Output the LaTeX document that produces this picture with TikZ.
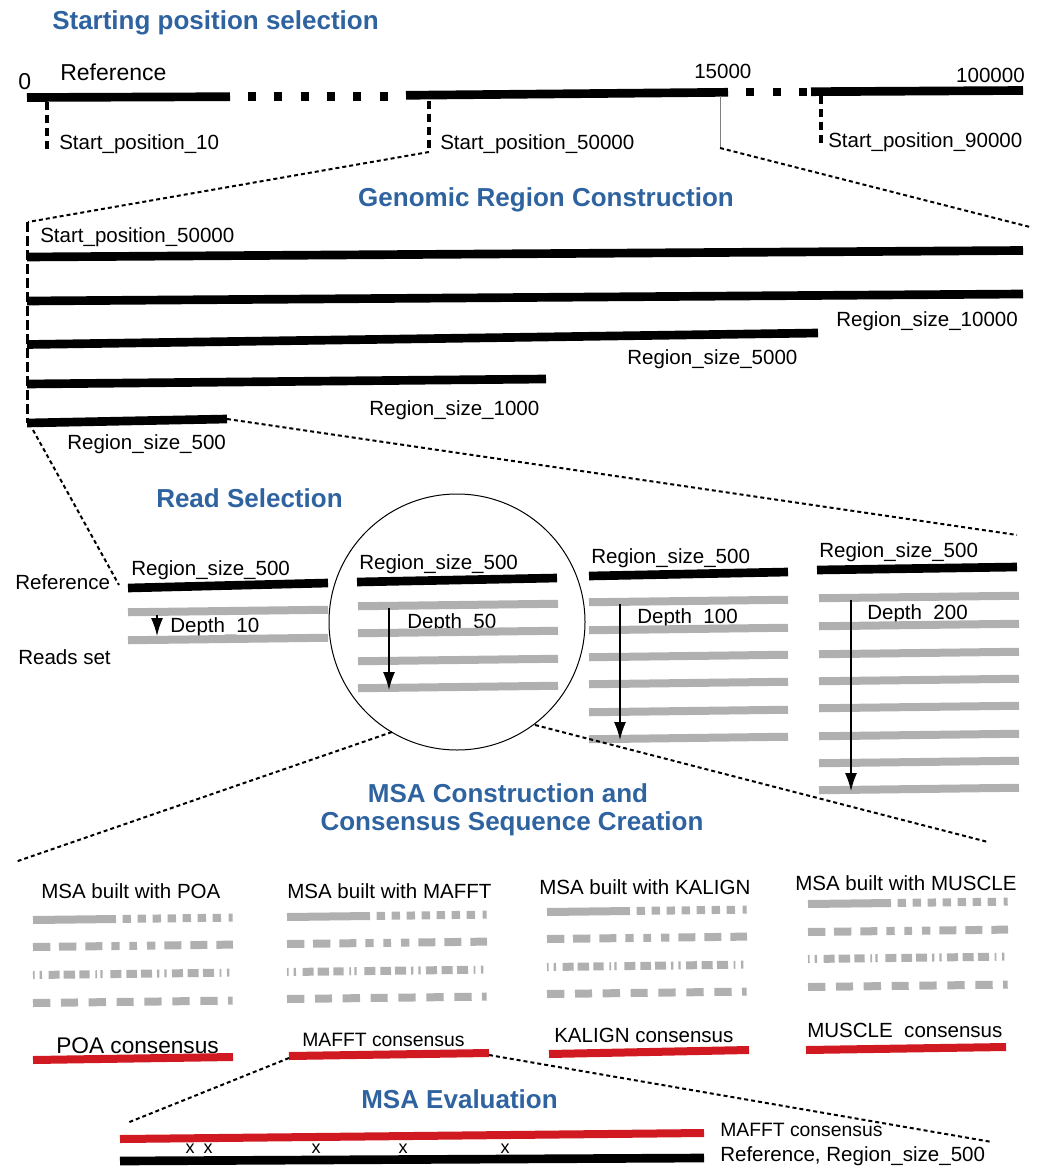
\documentclass[tikz,border=0pt]{standalone}
\usepackage{fontspec}
\setmainfont{Liberation Sans}
\usetikzlibrary{arrows.meta}
\definecolor{ttlblue}{RGB}{46,99,160}
\definecolor{rd}{RGB}{208,25,32}
\definecolor{gr}{RGB}{176,176,176}
\newcommand\msablk[5]{%
 \foreach \a/\b in {0/83,89.7/98,104.7/113,119.7/128,134.7/143,149.7/158,164.7/173,179.7/188,195.7/199.7}
   \draw[msa] ({#1+\a},{#2-0.012*\a}) -- ({#1+\b},{#2-0.012*\b});
 \foreach \a/\b in {0/17.3,26/43.3,52.3/69.3,78.3/86.7,96.3/104,114/122.3,131.3/148.3,157.3/174.3,183.3/200}
   \draw[msa] ({#1+\a},{#3-0.012*\a}) -- ({#1+\b},{#3-0.012*\b});
 \foreach \a/\b in {0/1.7,6.7/9,15.7/26.7,30.7/42,46.3/56.7,62.3/64,67.3/69.7,77.3/88.3,93.3/104,108/119,124/126.3,131.3/133.7,139/150,154.7/165.7,170/181,186.7/188.3,194/196.3}
   \draw[msa] ({#1+\a},{#4-0.012*\a}) -- ({#1+\b},{#4-0.012*\b});
 \foreach \a/\b in {0/17.3,28/45,55.7/73,83.7/100.7,111.3/128.7,139.3/156.7,167.3/184.7,195/199.7}
   \draw[msa] ({#1+\a},{#5-0.012*\a}) -- ({#1+\b},{#5-0.012*\b});
}
\begin{document}
\begin{tikzpicture}[x=0.75pt,y=-0.75pt,
  lbl/.style={anchor=base west,inner sep=0pt,font=\fontsize{15.4}{18}\selectfont},
  ttl/.style={anchor=base west,inner sep=0pt,font=\fontsize{19.5}{23}\selectfont\bfseries,text=ttlblue},
  refl/.style={line width=6.5pt,black},
  readl/.style={line width=6pt,gr},
  consl/.style={line width=6pt,rd},
  zoomln/.style={line width=1.5pt,dash pattern=on 3pt off 2.25pt},
  vtick/.style={line width=3pt,dash pattern=on 6pt off 3.75pt},
  deptharr/.style={line width=1.1pt,-{Latex[length=13.5pt,width=9pt]}},
  msa/.style={line width=6pt,gr}]
\useasboundingbox (0,0) rectangle (1036,1166);

% ---------- Section 1 ----------
\node[ttl] (t1) at (52,30) {Starting position selection};
\node[lbl,font=\fontsize{17.25}{20}\selectfont] (zero) at (18,90) {0};
\node[lbl,font=\fontsize{17.25}{20}\selectfont] (refT) at (60,81) {Reference};
\node[lbl] (n15k) at (694,79) {15000};
\node[lbl,anchor=base east] (n100k) at (1025,83) {100000};

\draw[refl] (27,97.5) -- (230,96.7);
\foreach \x in {248,274.3,300.6,326.9,353.2,379.5} \draw[refl] (\x,96.5) -- (\x+8,96.5);
\draw[refl] (406,95.3) -- (728,92.3);
\foreach \x in {746,772.5,799} \draw[refl] (\x,92) -- (\x+8,92);
\draw[refl] (811,91.7) -- (1023,90.5);

\draw[vtick] (47,102) -- (47,153);
\draw[vtick] (429,101) -- (429,152);
\draw[vtick] (821,96) -- (821,147);
\node[lbl] (sp10) at (59,150) {Start\_position\_10};
\node[lbl] (sp50) at (440,150) {Start\_position\_50000};
\node[lbl] (sp90) at (828,148) {Start\_position\_90000};

\draw[line width=0.6pt,gray] (720,96) -- (720,148);
\coordinate (z1a) at (429,152); \coordinate (z1b) at (28,222);
\coordinate (z2a) at (720,148); \coordinate (z2b) at (1030,227);
\draw[zoomln] (z1a) -- (z1b);
\draw[zoomln] (z2a) -- (z2b);

% ---------- Section 2 ----------
\node[ttl,anchor=base] (t2) at (546,207) {Genomic Region Construction};
\draw[line width=2.25pt,dash pattern=on 7.5pt off 3pt] (27,222) -- (27,423);
\node[lbl] (gsp) at (40,243) {Start\_position\_50000};
\draw[refl] (27,257) -- (1023,250.5);
\draw[refl] (27,301) -- (1023,294);
\draw[refl] (27,344.5) -- (818,333);
\draw[refl] (27,384) -- (546,379);
\draw[refl] (27,423) -- (227,419);
\node[lbl] (g10k) at (836,326) {Region\_size\_10000};
\node[lbl] (g5k) at (627,364) {Region\_size\_5000};
\node[lbl] (g1k) at (369,415) {Region\_size\_1000};
\node[lbl] (g500) at (67,449) {Region\_size\_500};
\coordinate (z3a) at (227,419); \coordinate (z3b) at (1017,535);
\coordinate (z4a) at (33,430); \coordinate (z4b) at (119,585);
\draw[zoomln] (z3a) -- (z3b);
\draw[zoomln] (z4a) -- (z4b);

% ---------- Section 3 ----------
\node[ttl] (t3) at (156,507) {Read Selection};
\node[lbl] (refR) at (15,589) {Reference};
\node[lbl] (rset) at (18,664) {Reads set};
\node[circle,draw,line width=0.75pt,minimum size=192pt,inner sep=0pt] (circ) at (457,622) {};

% block 1
\node[lbl] (b1l) at (131,575) {Region\_size\_500};
\draw[refl] (128,588) -- (328,583);
\node[lbl] (b1d) at (170,632) {Depth\_10};
\foreach \y in {611,639} \draw[readl] (128,\y+1.25) -- (328,\y-1.25);
\draw[deptharr] (157,615) -- (157,636);
% block 2
\node[lbl] (b2l) at (359,569) {Region\_size\_500};
\draw[refl] (357,582) -- (557,578);
\node[lbl] (b2d) at (407,628) {Depth\_50};
\foreach \y in {605,632,660,687} \draw[readl] (358,\y+1.25) -- (558,\y-1.25);
\draw[deptharr] (389,608) -- (389,690);
% block 3
\node[lbl] (b3l) at (591,563) {Region\_size\_500};
\draw[refl] (589,576) -- (788,572);
\node[lbl] (b3d) at (637,623) {Depth\_100};
\foreach \y in {601,629,656,683,711,738} \draw[readl] (589,\y+1.25) -- (788,\y-1.25);
\draw[deptharr] (620,604) -- (620,740);
% block 4
\node[lbl] (b4l) at (819,557) {Region\_size\_500};
\draw[refl] (817,570) -- (1017,567);
\node[lbl] (b4d) at (867,619) {Depth\_200};
\foreach \y in {597,625,653,680,707,735,762,789} \draw[readl] (819,\y+1.25) -- (1019,\y-1.25);
\draw[deptharr] (851,600) -- (851,791);

\coordinate (z5a) at (392,732); \coordinate (z5b) at (15,862);
\coordinate (z6a) at (535,725); \coordinate (z6b) at (988,842);
\draw[zoomln] (z5a) -- (z5b);
\draw[zoomln] (z6a) -- (z6b);

% ---------- Section 4 ----------
\node[ttl,anchor=base] (t4a) at (508,802) {MSA Construction and};
\node[ttl,anchor=base] (t4b) at (512,830) {Consensus Sequence Creation};

\node[lbl] (m1) at (41,898) {MSA built with POA};
\node[lbl] (m2) at (287,898) {MSA built with MAFFT};
\node[lbl] (m3) at (539,894) {MSA built with KALIGN};
\node[lbl] (m4) at (795,890) {MSA built with MUSCLE};
\msablk{33}{920}{947}{975}{1003}
\msablk{287}{917}{944}{972}{999}
\msablk{547}{912}{939}{967}{994}
\msablk{808}{904}{932}{959}{987}

\node[lbl,font=\fontsize{17}{20}\selectfont] (c1) at (56,1053) {POA consensus};
\draw[consl] (33,1060) -- (233,1057);
\node[lbl,font=\fontsize{14.5}{17}\selectfont] (c2) at (302,1046) {MAFFT consensus};
\draw[consl] (289,1056) -- (489,1053);
\node[lbl] (c3) at (554,1042) {KALIGN consensus};
\draw[consl] (549,1054) -- (749,1050);
\node[lbl] (c4) at (807,1037) {MUSCLE\ \ consensus};
\draw[consl] (806,1050) -- (1006,1047);

% ---------- Section 5 ----------
\node[ttl] (t5) at (361,1108) {MSA Evaluation};
\coordinate (z7a) at (289,1058); \coordinate (z7b) at (127,1123);
\coordinate (z8a) at (489,1055); \coordinate (z8b) at (992,1142);
\draw[consl] (120,1139) -- (704,1133);
\draw[refl] (120,1161) -- (704,1158);
\node[lbl,font=\fontsize{14.5}{17}\selectfont] (e1) at (720,1136) {MAFFT consensus};
\node[lbl] (e2) at (720,1161) {Reference, Region\_size\_500};
\foreach \x/\n in {190/xa,208/xb,316/xc,403/xd,505/xe}
  \node[lbl,anchor=base,font=\fontsize{13.5}{16}\selectfont] (\n) at (\x,1153) {x};
\draw[zoomln] (z7a) -- (z7b);
\draw[zoomln] (z8a) -- (z8b);
\end{tikzpicture}
\end{document}
